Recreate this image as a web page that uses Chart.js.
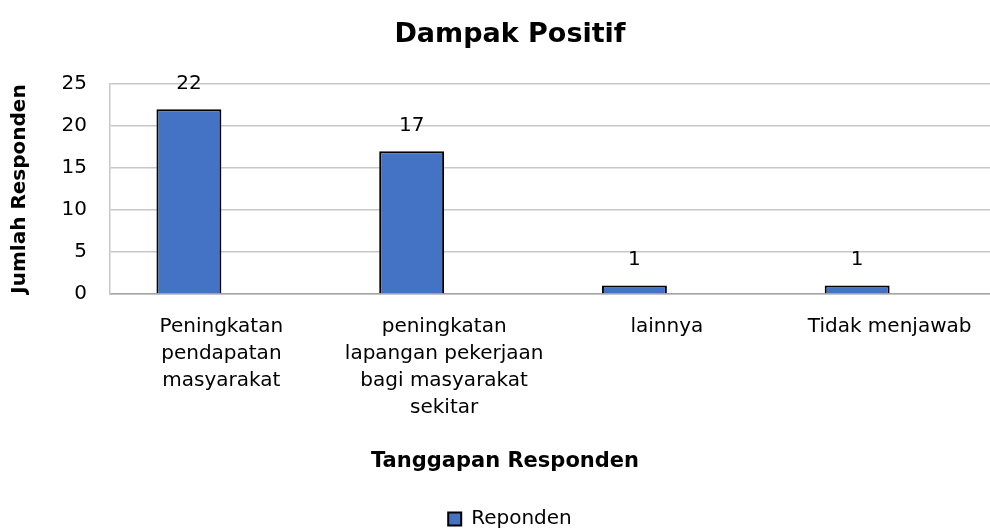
<!DOCTYPE html>
<html>
<head>
<meta charset="utf-8">
<script src="https://cdn.jsdelivr.net/npm/chart.js@4.4.1/dist/chart.umd.min.js"></script>
<style>
  html, body { margin: 0; padding: 0; background: #fff; overflow: hidden; }
  #wrap { width: 1020px; height: 532px; position: relative; }
</style>
</head>
<body>
<div id="wrap"><canvas id="chart"></canvas></div>
<script>
// data
const categories = [
	['Peningkatan', 'pendapatan', 'masyarakat'],
	['peningkatan', 'lapangan pekerjaan', 'bagi masyarakat', 'sekitar'],
	'lainnya',
	'Tidak menjawab'
];
const responden = [22, 17, 1, 1];
const emptySeries = [null, null, null, null];
const yMax = 25;
const yStep = 5;
const xTitle = 'Tanggapan Responden';

const FONT = "'DejaVu Sans', sans-serif";

// value labels above the bars + the x axis title (Excel put it off-centre)
const extraText = {
	id: 'extraText',
	afterDatasetsDraw(chart) {
		const ctx = chart.ctx;
		const meta = chart.getDatasetMeta(0);
		ctx.save();
		ctx.font = '20px ' + FONT;
		ctx.fillStyle = '#000';
		ctx.textAlign = 'center';
		ctx.textBaseline = 'middle';
		meta.data.forEach(function (bar, i) {
			ctx.fillText(String(responden[i]), bar.x, bar.y - 25.5);
		});
		ctx.font = 'bold 21px ' + FONT;
		ctx.fillText(xTitle, chart.width / 2 - 5, chart.chartArea.bottom + 168);
		ctx.restore();
	}
};

new Chart(document.getElementById('chart'), {
	type: 'bar',
	data: {
		labels: categories,
		datasets: [
			{
				label: 'Reponden',
				data: responden,
				backgroundColor: '#4472C4',
				borderColor: '#000',
				borderWidth: 2,
				borderSkipped: 'bottom'
			},
			{
				label: '',
				data: emptySeries
			}
		]
	},
	options: {
		responsive: true,
		maintainAspectRatio: false,
		animation: false,
		devicePixelRatio: 1,
		categoryPercentage: 0.583,
		barPercentage: 1,
		layout: { padding: { left: 19, right: 19, top: 0, bottom: -7 } },
		plugins: {
			tooltip: { enabled: false },
			title: {
				display: true,
				text: 'Dampak Positif',
				color: '#000',
				font: { family: FONT, size: 27, weight: 'bold' },
				padding: { top: 18.3, bottom: 33.3 }
			},
			legend: {
				position: 'bottom',
				labels: {
					color: '#000',
					font: { family: FONT, size: 20 },
					boxWidth: 13,
					boxHeight: 13,
					padding: 8,
					filter: function (item) { return item.datasetIndex === 0; }
				}
			}
		},
		scales: {
			x: {
				grid: { display: false, drawTicks: false },
				border: { display: true, color: '#a6a6a6', width: 1.5 },
				ticks: {
					color: '#000',
					font: { family: FONT, size: 20, lineHeight: 1.35 },
					padding: 19.5,
					maxRotation: 0,
					autoSkip: false
				},
				afterFit: function (scale) { scale.height = 207; }
			},
			y: {
				min: 0,
				max: yMax,
				grid: { color: '#c8c8c8', lineWidth: 1.5, drawTicks: false },
				border: { display: true, color: '#c8c8c8', width: 1.5 },
				ticks: {
					stepSize: yStep,
					color: '#000',
					font: { family: FONT, size: 20 },
					padding: 23
				},
				title: {
					display: true,
					text: 'Jumlah Responden',
					color: '#000',
					font: { family: FONT, size: 20, weight: 'bold' },
					padding: { top: -11, bottom: 0 }
				},
				afterFit: function (scale) { scale.width = 91; }
			}
		}
	},
	plugins: [extraText]
});
</script>
</body>
</html>
